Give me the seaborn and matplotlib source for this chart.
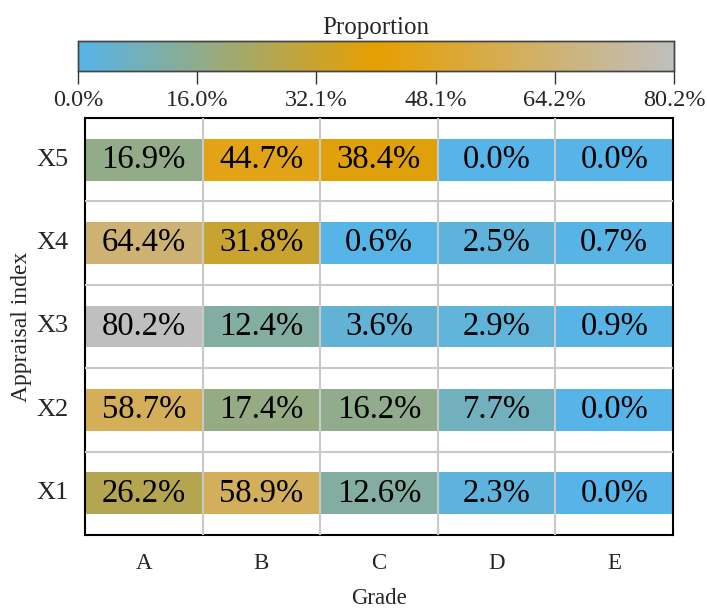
import numpy as np
import pandas as pd
import seaborn as sns
import matplotlib
matplotlib.use("Agg")
import matplotlib.pyplot as plt
from matplotlib.colors import LinearSegmentedColormap

# Proportion (%) of each appraisal index falling into each grade
grades = ["A", "B", "C", "D", "E"]
indices = ["X5", "X4", "X3", "X2", "X1"]  # top to bottom
x5 = [16.9, 44.7, 38.4, 0.0, 0.0]
x4 = [64.4, 31.8, 0.6, 2.5, 0.7]
x3 = [80.2, 12.4, 3.6, 2.9, 0.9]
x2 = [58.7, 17.4, 16.2, 7.7, 0.0]
x1 = [26.2, 58.9, 12.6, 2.3, 0.0]

sns.set_style("white")
plt.rcParams["font.family"] = ["Liberation Serif", "DejaVu Serif"]

values = np.array([x5, x4, x3, x2, x1])
vmax = values.max()

# Each index row is split into 4 sub-rows; only the middle two carry colour,
# so the cells appear as bands with white space above and below.
SUB = 4
expanded = np.full((len(indices) * SUB, len(grades)), np.nan)
for i, row in enumerate(values):
    expanded[i * SUB + 1] = row
    expanded[i * SUB + 2] = row
df = pd.DataFrame(expanded, columns=grades)

cmap = LinearSegmentedColormap.from_list("prop", ["#56B4E9", "#E69F00", "#BFBFBF"])

fig = plt.figure(figsize=(7.07, 6.12), dpi=100)
ax = fig.add_axes([85 / 707, 1 - 535 / 612, 588 / 707, 417 / 612])
cax = fig.add_axes([78 / 707, 1 - 71 / 612, 596 / 707, 30 / 612])

sns.heatmap(df, ax=ax, cmap=cmap, vmin=0, vmax=vmax, cbar=True, cbar_ax=cax,
            cbar_kws={"orientation": "horizontal"}, annot=False)

# cell labels
for i, name in enumerate(indices):
    for j, g in enumerate(grades):
        ax.text(j + 0.5, i * SUB + 2, f"{values[i, j]:.1f}%", ha="center", va="center",
                fontsize=23.5, color="black")

# grid lines on cell boundaries
ax.vlines(np.arange(1, len(grades)), 0, len(indices) * SUB, colors="#c9c9c9", lw=1.5, zorder=3)
ax.hlines(np.arange(1, len(indices)) * SUB, 0, len(grades), colors="#c9c9c9", lw=1.5, zorder=3)

ax.set_xticks(np.arange(len(grades)) + 0.5)
ax.set_xticklabels(grades, fontsize=16.5, rotation=0)
ax.set_yticks(np.arange(len(indices)) * SUB + 2)
ax.set_yticklabels(indices, fontsize=19, rotation=0)
ax.tick_params(axis="both", direction="out", length=6, width=1.2, color="black", pad=6)
ax.tick_params(axis="x", pad=7)
ax.set_xlabel("Grade", fontsize=16.5, labelpad=10)
ax.set_ylabel("Appraisal index", fontsize=17, labelpad=3)
for s in ax.spines.values():
    s.set_visible(True)
    s.set_color("black")
    s.set_linewidth(1.5)

# colour bar
ticks = np.linspace(0, vmax, 6)
cax.set_xticks(ticks)
cax.set_xticklabels([f"{t:.1f}%" for t in ticks], fontsize=17.5)
cax.tick_params(axis="x", direction="out", length=9, width=1, color="#333333", pad=5,
                bottom=True, labelbottom=True, top=False, labeltop=False)
cax.xaxis.set_ticks_position("bottom")
cax.set_title("Proportion", fontsize=18, pad=5)
for s in cax.spines.values():
    s.set_visible(True)
    s.set_color("#444444")
    s.set_linewidth(1)

fig.savefig("out.png", dpi=100)
